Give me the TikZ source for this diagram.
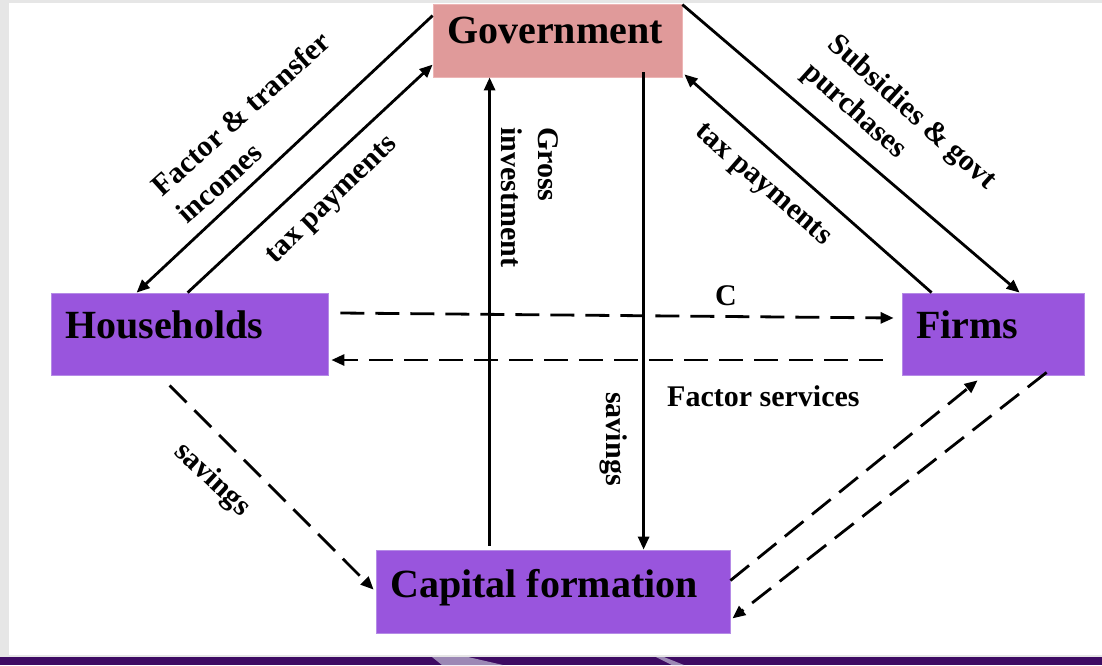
\documentclass[tikz,border=0pt]{standalone}
\usepackage{fontspec}
\setmainfont{Liberation Serif}
\usetikzlibrary{arrows.meta,calc}
\definecolor{boxpurple}{HTML}{9955DD}
\definecolor{boxedge}{HTML}{B58BE6}
\definecolor{govpink}{HTML}{E09A9A}
\definecolor{govedge}{HTML}{EDB5B5}
\definecolor{margingray}{HTML}{E6E6E6}
\definecolor{darkstrip}{HTML}{3E0B63}
\definecolor{streak}{HTML}{9C88B5}
\begin{document}
\begin{tikzpicture}[x=1pt,y=-1pt,
  boxstyle/.style={draw=boxedge,fill=boxpurple,line width=0.8pt,inner sep=0pt},
  govstyle/.style={draw=govedge,fill=govpink,line width=0.8pt,inner sep=0pt},
  bigtext/.style={font=\fontsize{40}{44}\selectfont\bfseries,inner sep=0pt},
  lbl/.style={font=\fontsize{30}{37}\selectfont\bfseries,inner sep=0pt,align=left},
  flow/.style={line width=2.8pt,-{Triangle[length=13pt,width=11pt]}},
  dflow/.style={flow,dash pattern=on 24pt off 11pt}]
% background and margins
\fill[margingray] (0,0) rectangle (1102,665);
\useasboundingbox (0,0) rectangle (1102,665);
\fill[white] (9,3) rectangle (1102,655);
\fill[darkstrip] (0,657) rectangle (1102,665);
\fill[streak] (432,657) -- (468,657) -- (503,665) -- (442,665) -- cycle;
\fill[streak] (656,657) -- (664,657) -- (684,665) -- (672,665) -- cycle;
% boxes
\node[govstyle,minimum width=249pt,minimum height=73pt] (gov) at (557.5,40.5) {};
\node[boxstyle,minimum width=277pt,minimum height=82pt] (hh) at (189.5,334) {};
\node[boxstyle,minimum width=182pt,minimum height=82pt] (firms) at (993,334) {};
\node[boxstyle,minimum width=354pt,minimum height=83pt] (cap) at (553,591.5) {};
% box texts
\node[bigtext,anchor=base] (govt) at (555,43) {Government};
\node[bigtext,anchor=base west] (hht) at (65,338) {Households};
\node[bigtext,anchor=base west] (firmst) at (916,338) {Firms};
\node[bigtext,anchor=base west] (capt) at (390,597) {Capital formation};
% solid connectors
\draw[flow] ($(gov.north west)+(0,12)$) -- ($(hh.north west)+(86,0)$);
\draw[flow] ($(hh.north west)+(137,0)$) -- ($(gov.north west)+(0,61)$);
\draw[flow] ($(gov.north east)+(0,1)$) -- ($(firms.north west)+(118,0)$);
\draw[flow] ($(firms.north west)+(30,0)$) -- ($(gov.south east)+(2,-3)$);
\draw[flow] ($(cap.north west)+(114,-4)$) -- ($(gov.south west)+(57,0)$);
\draw[flow] ($(gov.south west)+(211,-5)$) -- ($(cap.north west)+(268,0)$);
% dashed connectors
\draw[dflow] ($(hh.east)+(12,-21)$) -- ($(firms.west)+(-8,-16)$);
\draw[dflow] ($(firms.west)+(-19,26)$) -- ($(hh.east)+(3,26)$);
\draw[dflow] ($(hh.south west)+(119,10)$) -- ($(cap.north west)+(-2,40)$);
\draw[dflow] ($(cap.east)+(0,-11)$) -- ($(firms.south west)+(76,5)$);
\draw[dflow] ($(firms.south west)+(145,-3)$) -- ($(cap.south east)+(2,-15)$);
% labels
\node[lbl,rotate=42] (lfactor) at (253,127) {Factor \& transfer\\incomes};
\node[lbl,rotate=44] (ltaxl) at (333,201) {tax payments};
\node[lbl,rotate=-90] (lgross) at (530,197) {Gross\\investment};
\node[lbl,rotate=-42] (lsubs) at (899,127) {Subsidies \& govt\\purchases};
\node[lbl,rotate=-41] (ltaxr) at (762,186) {tax payments};
\node[lbl,anchor=base] (lc) at (726,305) {C};
\node[lbl,anchor=base west] (lfs) at (667,406) {Factor services};
\node[lbl,rotate=-90] (lsavm) at (614,439) {savings};
\node[lbl,rotate=-43] (lsavl) at (212,480) {savings};
\end{tikzpicture}
\end{document}
